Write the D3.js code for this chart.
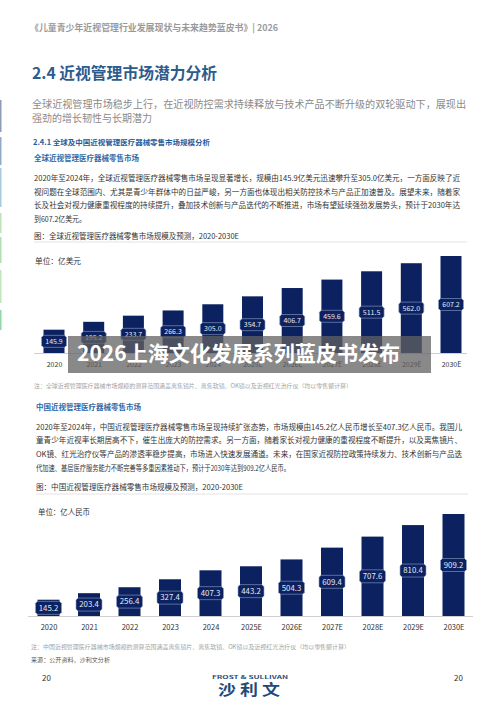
<!DOCTYPE html>
<html><head><meta charset="utf-8">
<script src="https://cdn.jsdelivr.net/npm/d3@7/dist/d3.min.js"></script>
<style>html,body{margin:0;padding:0;background:#fff;}svg{display:block;font-family:"Noto Sans CJK SC","Noto Sans",sans-serif;}</style>
</head><body><svg id="c" width="500" height="710"></svg>
<script>
const years = ["2020","2021","2022","2023","2024","2025E","2026E","2027E","2028E","2029E","2030E"];
const globalValues = [145.9,195.2,233.7,266.3,305.0,354.7,406.7,459.6,511.5,562.0,607.2];
const chinaValues = [145.2,203.4,256.4,327.4,407.3,443.2,504.3,609.4,707.6,810.4,909.2];
const globalUnit = "单位：亿美元";
const chinaUnit = "单位：亿人民币";

const svg = d3.select("#c");
svg.append("rect").attr("width",500).attr("height",710).attr("fill","#fff");

function txt(x, yc, s, size, color, opt={}) {
  const t = svg.append("text").attr("x", x).attr("y", yc + size*0.36)
    .attr("font-size", size).attr("fill", color).text(s);
  if (opt.weight) t.attr("font-weight", opt.weight);
  if (opt.width) t.attr("textLength", opt.width).attr("lengthAdjust","spacingAndGlyphs");
  if (opt.anchor) t.attr("text-anchor", opt.anchor);
  if (opt.ls) t.attr("letter-spacing", opt.ls);
  return t;
}

// left edge strip
const strip = [[100,132,"#8e9cb8"],[137,165,"#93a9c9"],[168,207,"#a9c9df"],[213,233,"#bfe2b8"],[237,263,"#b3dfb0"],[270,303,"#c2e6b9"],[310,330,"#93d6aa"]];
strip.forEach(s=>svg.append("rect").attr("x",0).attr("y",s[0]).attr("width",1.5).attr("height",s[1]-s[0]).attr("fill",s[2]));

// header
txt(30, 28, "《儿童青少年近视管理行业发展现状与未来趋势蓝皮书》| 2026", 9, "#9a9a9a", {weight:600, width:248});
txt(32, 73, "2.4 近视管理市场潜力分析", 16, "#2d5b8e", {weight:700, width:185});
txt(32, 104, "全球近视管理市场稳步上行，在近视防控需求持续释放与技术产品不断升级的双轮驱动下，展现出", 10, "#8a8a8a", {width:434});
txt(32, 118, "强劲的增长韧性与长期潜力", 10, "#8a8a8a", {width:120});
txt(33, 142, "2.4.1 全球及中国近视管理医疗器械零售市场规模分析", 7.4, "#2a5a9a", {weight:700, width:177});
txt(34, 158, "全球近视管理医疗器械零售市场", 7.5, "#2e68a6", {weight:700, width:105});

const p1 = ["2020年至2024年，全球近视管理医疗器械零售市场呈现显著增长，规模由145.9亿美元迅速攀升至305.0亿美元，一方面反映了近",
"视问题在全球范围内、尤其是青少年群体中的日益严峻，另一方面也体现出相关防控技术与产品正加速普及。展望未来，随着家",
"长及社会对视力健康重视程度的持续提升，叠加技术创新与产品迭代的不断推进，市场有望延续强劲发展势头，预计于2030年达",
"到607.2亿美元。"];
const p1y = [178,192,205,219];
p1.forEach((l,i)=>txt(34, p1y[i], l, 7.5, "#333", i<3?{width:426}:{width:52}));

txt(34, 236, "图：全球近视管理医疗器械零售市场规模及预测，2020-2030E", 7.5, "#333", {width:205});
svg.append("line").attr("x1",34).attr("x2",467).attr("y1",242).attr("y2",242).attr("stroke","#dcdcdc").attr("stroke-width",0.8);
txt(35, 261, globalUnit, 7.5, "#333", {width:46});

function labelPath(cx, cy, w, h, c) {
  const x0=cx-w/2, x1=cx+w/2, y0=cy-h/2, y1=cy+h/2;
  return `M${x0+c},${y0}L${x1-c},${y0}L${x1},${y0+c}L${x1},${y1-c}L${x1-c},${y1}L${x0+c},${y1}L${x0},${y1-c}L${x0},${y0+c}Z`;
}

function barChart(values, cfg) {
  const x = d3.scalePoint().domain(years).range(cfg.xr);
  const y = d3.scaleLinear().domain([0, d3.max(values)]).range([cfg.base, cfg.top]);
  const g = svg.append("g");
  g.append("line").attr("x1",cfg.lx[0]).attr("x2",cfg.lx[1]).attr("y1",cfg.base+0.5).attr("y2",cfg.base+0.5)
    .attr("stroke","#cfcfcf").attr("stroke-width",1);
  g.selectAll("rect.bar").data(values).join("rect").attr("class","bar")
    .attr("x",(d,i)=>x(years[i])-cfg.bw/2).attr("width",cfg.bw)
    .attr("y",d=>y(d)).attr("height",d=>cfg.base-y(d)).attr("fill","#0c2160");
  g.selectAll("path.lab").data(values).join("path").attr("class","lab")
    .attr("d",(d,i)=>labelPath(x(years[i]), (y(d)+cfg.base)/2, cfg.lw, cfg.lh, 2))
    .attr("fill","#0c2160").attr("stroke","#8fa1c6").attr("stroke-width",0.6);
  g.selectAll("text.val").data(values).join("text").attr("class","val")
    .attr("x",(d,i)=>x(years[i])).attr("y",d=>(y(d)+cfg.base)/2 + cfg.fs*0.36)
    .attr("text-anchor","middle").attr("font-size",cfg.fs).attr("fill","#e6eaf4")
    .text(d=>d.toFixed(1));
  const ax = g.append("g").attr("transform",`translate(0,${cfg.tickY})`)
    .call(d3.axisBottom(x).tickSize(0).tickPadding(0));
  ax.select(".domain").remove();
  ax.selectAll("text").attr("font-size",cfg.tfs).attr("fill","#333")
    .attr("font-family",'"Noto Sans CJK SC","Noto Sans",sans-serif').attr("dy","0.35em");
}

barChart(globalValues, {xr:[54,451], base:353, top:256, bw:21, lw:25, lh:12, fs:7, lx:[34,467], tickY:365, tfs:7});

// banner overlay
svg.append("rect").attr("x",68).attr("y",336).attr("width",363).attr("height",37).attr("fill","rgb(98,98,98)").attr("opacity",0.75);
txt(77, 353, "2026上海文化发展系列蓝皮书发布", 21, "#fff", {weight:700, width:323});

txt(34, 386, "注：全球近视管理医疗器械市场规模的测算范围涵盖离焦镜片、离焦软镜、OK镜以及近视红光治疗仪（均以零售额计算）", 5.5, "#a0a0a0", {width:318});

txt(36, 407, "中国近视管理医疗器械零售市场", 7.5, "#2e68a6", {weight:700, width:105});
const p2 = ["2020年至2024年，中国近视管理医疗器械零售市场呈现持续扩张态势，市场规模由145.2亿人民币增长至407.3亿人民币。我国儿",
"童青少年近视率长期居高不下，催生出庞大的防控需求。另一方面，随着家长对视力健康的重视程度不断提升，以及离焦镜片、",
"OK镜、红光治疗仪等产品的渗透率稳步提高，市场进入快速发展通道。未来，在国家近视防控政策持续发力、技术创新与产品迭",
"代加速、基层医疗服务能力不断完善等多重因素推动下，预计于2030年达到909.2亿人民币。"];
const p2y = [427,440,454,468];
p2.forEach((l,i)=>txt(36, p2y[i], l, 7.5, "#333", i<3?{width:426}:{width:254}));

txt(36, 487, "图：中国近视管理医疗器械零售市场规模及预测，2020-2030E", 7.5, "#333", {width:207});
svg.append("line").attr("x1",36).attr("x2",468).attr("y1",494).attr("y2",494).attr("stroke","#dcdcdc").attr("stroke-width",0.8);
txt(38, 512, chinaUnit, 7.5, "#333", {width:52});

barChart(chinaValues, {xr:[48.5,453.5], base:616, top:514, bw:22, lw:26, lh:13, fs:7.8, lx:[28,473], tickY:627, tfs:7.5});

txt(31, 647, "注：中国近视管理医疗器械市场规模的测算范围涵盖离焦镜片、离焦软镜、OK镜以及近视红光治疗仪（均以零售额计算）", 5.5, "#a0a0a0", {width:319});
txt(31, 660, "来源：公开资料，沙利文分析", 6, "#555", {width:79});

txt(42, 678, "20", 8, "#333");
txt(463, 678, "20", 8, "#333", {anchor:"end"});
txt(212, 677, "FROST & SULLIVAN", 4.3, "#2a4d7a", {width:76, weight:600});
txt(218, 690, "沙 利 文", 15, "#1f4a78", {weight:700, width:62});
</script></body></html>
